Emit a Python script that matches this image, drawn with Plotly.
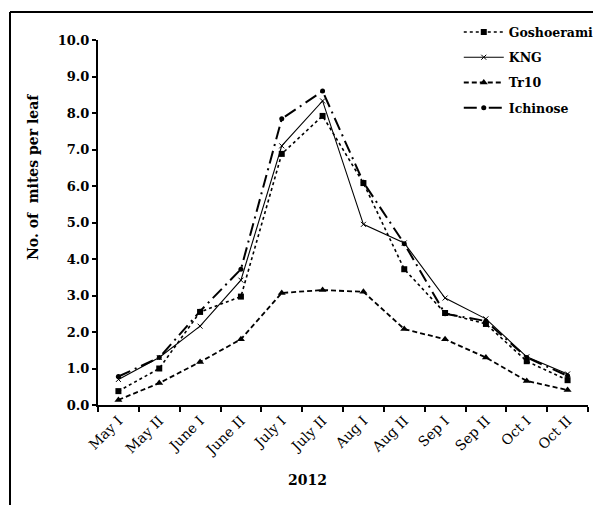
import plotly.graph_objects as go

categories = ["May I", "May II", "June I", "June II", "July I", "July II",
              "Aug I", "Aug II", "Sep I", "Sep II", "Oct I", "Oct II"]
goshoerami = [0.38, 1.0, 2.55, 2.97, 6.88, 7.92, 6.08, 3.72, 2.52, 2.22, 1.2, 0.68]
kng = [0.7, 1.3, 2.16, 3.42, 7.1, 8.33, 4.95, 4.44, 2.93, 2.36, 1.32, 0.85]
tr10 = [0.14, 0.6, 1.18, 1.8, 3.07, 3.15, 3.1, 2.08, 1.8, 1.3, 0.66, 0.41]
ichinose = [0.78, 1.3, 2.57, 3.72, 7.84, 8.6, 6.1, 4.42, 2.5, 2.3, 1.3, 0.8]
y_ticks = [0, 1, 2, 3, 4, 5, 6, 7, 8, 9, 10]

FONT = "DejaVu Serif"

fig = go.Figure()
fig.add_trace(go.Scatter(x=categories, y=goshoerami, name="Goshoerami", legendgroup="a",
                         mode="lines+markers",
                         line=dict(color="black", width=1.6, dash="dot"),
                         marker=dict(symbol="square", size=6, color="black")))
fig.add_trace(go.Scatter(x=categories, y=kng, name="KNG", legendgroup="b",
                         mode="lines+markers",
                         line=dict(color="black", width=1.1),
                         marker=dict(symbol="x-thin", size=5, color="black",
                                     line=dict(width=1, color="black"))))
fig.add_trace(go.Scatter(x=categories, y=tr10, name="Tr10", legendgroup="c",
                         mode="lines+markers",
                         line=dict(color="black", width=1.8, dash="5px,3px"),
                         marker=dict(symbol="triangle-up", size=7, color="black")))
fig.add_trace(go.Scatter(x=categories, y=ichinose, name="Ichinose", legendgroup="d",
                         mode="lines+markers",
                         line=dict(color="black", width=2, dash="13px,5px,2px,5px"),
                         marker=dict(symbol="circle", size=5, color="black")))

# page body has an 8px default margin, so the figure is 8px smaller
fig.update_layout(
    width=593, height=497,
    margin=dict(l=90, r=13, t=32, b=100, autoexpand=False),
    plot_bgcolor="white", paper_bgcolor="white",
    font=dict(family=FONT, color="black"),
    showlegend=True,
    legend=dict(x=1.022, xanchor="right", y=1.062, yanchor="top",
                font=dict(family=FONT, size=12.5, color="black", weight="bold"),
                tracegroupgap=6, itemwidth=40, bgcolor="rgba(0,0,0,0)"),
    xaxis=dict(
        type="category", range=[-0.5, 11.5],
        showline=True, linecolor="black", linewidth=2,
        ticks="outside", tickson="boundaries", ticklen=5, tickwidth=2, tickcolor="black",
        tickangle=-45, tickfont=dict(family=FONT, size=14, color="black"),
        showgrid=False, zeroline=False,
    ),
    yaxis=dict(
        range=[0, 10], tickvals=y_ticks, tickformat=".1f",
        showline=True, linecolor="black", linewidth=2,
        ticks="outside", ticklen=4, tickwidth=2, tickcolor="black",
        tickfont=dict(family=FONT, size=13, color="black", weight="bold"),
        showgrid=False, zeroline=False,
    ),
    annotations=[
        dict(text="No. of  mites per leaf", textangle=-90,
             xref="paper", yref="paper", x=(33 - 98) / 490, y=(405 - 177) / 365,
             xanchor="center", yanchor="middle",
             showarrow=False, font=dict(family=FONT, size=14, weight="bold")),
        dict(text="2012",
             xref="paper", yref="paper", x=(307 - 98) / 490, y=(405 - 480) / 365,
             xanchor="center", yanchor="middle",
             showarrow=False, font=dict(family=FONT, size=14, weight="bold")),
    ],
    shapes=[
        dict(type="line", xref="paper", yref="paper",
             x0=(10 - 98) / 490, x1=(10 - 98) / 490, y0=(405 - 12) / 365, y1=(405 - 510) / 365,
             line=dict(color="black", width=2)),
        dict(type="line", xref="paper", yref="paper",
             x0=(10 - 98) / 490, x1=(605 - 98) / 490, y0=(405 - 12) / 365, y1=(405 - 12) / 365,
             line=dict(color="black", width=2)),
    ],
)

fig.write_html("out.html")
